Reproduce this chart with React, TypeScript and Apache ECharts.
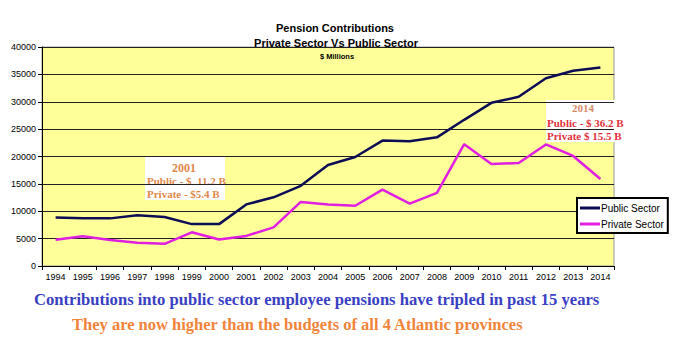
import React, { useEffect, useRef } from "react";
import * as echarts from "echarts";

const years = ["1994","1995","1996","1997","1998","1999","2000","2001","2002","2003","2004","2005","2006","2007","2008","2009","2010","2011","2012","2013","2014"];
const publicSector = [8850, 8700, 8700, 9250, 8950, 7650, 7650, 11250, 12550, 14650, 18450, 19900, 22900, 22800, 23500, 26700, 29800, 30900, 34300, 35650, 36250];
const privateSector = [4800, 5450, 4750, 4250, 4050, 6150, 4850, 5500, 7050, 11700, 11250, 11000, 13950, 11400, 13350, 22250, 18650, 18800, 22200, 20100, 15900];

export default function App() {
  const ref = useRef<HTMLDivElement>(null);
  useEffect(() => {
    const chart = echarts.init(ref.current!, null, { renderer: "svg" });
    const arial = "Arial, 'Liberation Sans', sans-serif";
    const times = "'Times New Roman', 'Liberation Serif', serif";
    chart.setOption({
      animation: false,
      backgroundColor: "#ffffff",
      grid: { left: 42, right: 66, top: 47, bottom: 88, show: true, backgroundColor: "#ffff99", borderColor: "#9a9a9a", borderWidth: 1 },
      title: [
        { text: "Pension Contributions", left: 330, top: 17, textAlign: "center", textStyle: { fontFamily: arial, fontSize: 11, fontWeight: "bold", color: "#000" } },
        { text: "Private Sector Vs Public Sector", left: 331, top: 32, textAlign: "center", textStyle: { fontFamily: arial, fontSize: 11, fontWeight: "bold", color: "#000" } },
        { text: "$ Millions", left: 332, top: 47, textAlign: "center", textStyle: { fontFamily: arial, fontSize: 7.5, fontWeight: "bold", color: "#000" } },
      ],
      xAxis: {
        type: "category",
        data: years,
        boundaryGap: true,
        axisLine: { lineStyle: { color: "#000", width: 1 } },
        axisTick: { show: true, lineStyle: { color: "#000" }, length: 4 },
        axisLabel: { fontFamily: arial, fontSize: 9, color: "#000", margin: 6, interval: 0 },
      },
      yAxis: {
        type: "value",
        min: 0,
        max: 40000,
        interval: 5000,
        axisLine: { show: true, lineStyle: { color: "#000" } },
        axisTick: { show: true, lineStyle: { color: "#000" }, length: 4 },
        axisLabel: { fontFamily: arial, fontSize: 9, color: "#000", margin: 6, formatter: (v: number) => String(v) },
        splitLine: { lineStyle: { color: "#222", width: 1 } },
      },
      legend: {
        data: ["Public Sector", "Private Sector"],
        orient: "vertical",
        left: 577,
        top: 198,
        backgroundColor: "#ffffff",
        borderColor: "#000",
        borderWidth: 2,
        borderRadius: 0,
        padding: [4, 4, 3, 3],
        itemGap: 4,
        itemWidth: 20,
        itemHeight: 3,
        icon: "rect",
        textStyle: { fontFamily: arial, fontSize: 10, color: "#000", padding: [0, 0, 0, -4], lineHeight: 12 },
      },
      series: [
        { name: "Public Sector", type: "line", data: publicSector, symbol: "none", lineStyle: { color: "#0d0d55", width: 2.5 }, itemStyle: { color: "#0d0d55" } },
        { name: "Private Sector", type: "line", data: privateSector, symbol: "none", lineStyle: { color: "#e01fe0", width: 2.5 }, itemStyle: { color: "#e01fe0" } },
      ],
      graphic: [
        { type: "rect", shape: { x: 145, y: 157, width: 80, height: 43 }, style: { fill: "#ffffff" } },
        { type: "text", x: 184, y: 162, style: { text: "2001", fontFamily: times, fontSize: 12, fontWeight: "bold", fill: "#e0884a", textAlign: "center" } },
        { type: "text", x: 147, y: 175, style: { text: "Public - $  11.2 B", fontFamily: times, fontSize: 11, fontWeight: "bold", fill: "#e0884a" } },
        { type: "text", x: 147, y: 188, style: { text: "Private - $5.4 B", fontFamily: times, fontSize: 11, fontWeight: "bold", fill: "#e0884a" } },
        { type: "rect", shape: { x: 546, y: 100, width: 72, height: 42 }, style: { fill: "#ffffff" } },
        { type: "text", x: 583, y: 102, style: { text: "2014", fontFamily: times, fontSize: 11, fontWeight: "bold", fill: "#d98a66", textAlign: "center" } },
        { type: "text", x: 547, y: 117, style: { text: "Public - $ 36.2 B", fontFamily: times, fontSize: 11, fontWeight: "bold", fill: "#e0303c" } },
        { type: "text", x: 547, y: 130, style: { text: "Private $ 15.5 B", fontFamily: times, fontSize: 11, fontWeight: "bold", fill: "#e0303c" } },
        { type: "text", x: 34, y: 291, style: { text: "Contributions into public sector employee pensions have tripled in past 15 years", fontFamily: times, fontSize: 16.6, fontWeight: "bold", fill: "#3a3fc4" } },
        { type: "text", x: 72, y: 316, style: { text: "They are now higher than the budgets of all 4 Atlantic provinces", fontFamily: times, fontSize: 16.5, fontWeight: "bold", fill: "#f0843a" } },
      ],
    });
    return () => chart.dispose();
  }, []);
  return <div ref={ref} style={{ position: "fixed", left: 0, top: 0, width: 680, height: 354 }} />;
}
